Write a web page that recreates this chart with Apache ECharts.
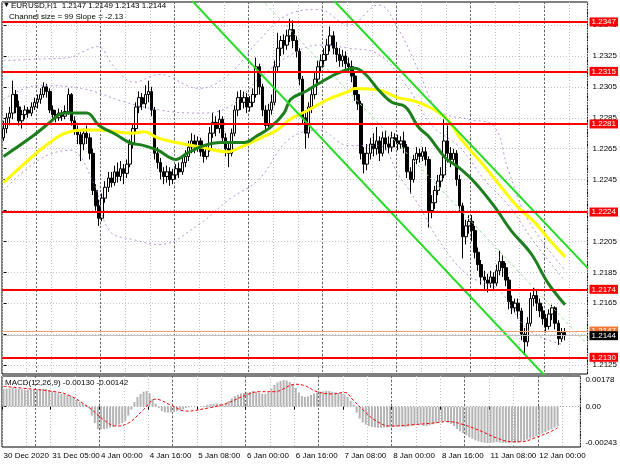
<!DOCTYPE html>
<html><head><meta charset="utf-8">
<script src="https://cdn.jsdelivr.net/npm/echarts@6/dist/echarts.min.js"></script>
<style>html,body{margin:0;padding:0;background:#fff}#c{width:620px;height:465px}</style>
</head><body><div id="c"></div>
<script>
// ---- data ----
const dayNames = ['30 Dec','31 Dec','4 Jan','5 Jan','6 Jan','7 Jan','8 Jan','11 Jan','12 Jan'];
const dayFirstHour = [13,0,0,0,0,0,0,0,0];
const dayBarCount = [11,21,24,24,24,24,24,24,7];
const emptySlots = 7;
// [open, close, low, high]
const candles = [
[1.2272,1.2278,1.2270,1.2283],[1.2278,1.2285,1.2275,1.2288],[1.2285,1.2288,1.2280,1.2292],[1.2288,1.2300,1.2284,1.2309],
[1.2300,1.2292,1.2288,1.2303],[1.2292,1.2283,1.2280,1.2296],[1.2283,1.2287,1.2278,1.2290],[1.2287,1.2290,1.2284,1.2293],
[1.2290,1.2288,1.2285,1.2292],[1.2288,1.2292,1.2286,1.2295],[1.2292,1.2295,1.2290,1.2298],[1.2295,1.2297,1.2291,1.2300],
[1.2297,1.2300,1.2294,1.2304],[1.2300,1.2305,1.2298,1.2308],[1.2305,1.2302,1.2298,1.2307],[1.2302,1.2290,1.2288,1.2304],
[1.2290,1.2287,1.2284,1.2293],[1.2287,1.2285,1.2282,1.2290],[1.2285,1.2288,1.2283,1.2291],[1.2288,1.2286,1.2283,1.2290],
[1.2286,1.2289,1.2284,1.2293],[1.2289,1.2300,1.2287,1.2304],[1.2300,1.2283,1.2280,1.2301],[1.2283,1.2277,1.2274,1.2286],
[1.2277,1.2274,1.2268,1.2280],[1.2274,1.2268,1.2257,1.2276],[1.2268,1.2275,1.2264,1.2278],[1.2275,1.2272,1.2268,1.2280],
[1.2272,1.2262,1.2258,1.2275],[1.2262,1.2238,1.2235,1.2265],[1.2238,1.2228,1.2225,1.2242],[1.2228,1.2220,1.2215,1.2232],
[1.2220,1.2233,1.2218,1.2236],[1.2233,1.2240,1.2230,1.2244],[1.2240,1.2246,1.2237,1.2250],[1.2246,1.2243,1.2240,1.2250],
[1.2243,1.2250,1.2241,1.2254],[1.2250,1.2247,1.2243,1.2256],[1.2247,1.2252,1.2244,1.2257],[1.2252,1.2249,1.2242,1.2255],
[1.2249,1.2255,1.2246,1.2258],[1.2255,1.2268,1.2253,1.2271],[1.2268,1.2278,1.2265,1.2281],[1.2278,1.2292,1.2275,1.2295],
[1.2292,1.2298,1.2288,1.2302],[1.2298,1.2294,1.2290,1.2301],[1.2294,1.2300,1.2291,1.2306],[1.2300,1.2302,1.2295,1.2309],
[1.2302,1.2290,1.2286,1.2305],[1.2290,1.2262,1.2258,1.2292],[1.2262,1.2256,1.2252,1.2266],[1.2256,1.2250,1.2245,1.2259],
[1.2250,1.2247,1.2242,1.2253],[1.2247,1.2250,1.2243,1.2254],[1.2250,1.2245,1.2241,1.2253],[1.2245,1.2248,1.2242,1.2252],
[1.2248,1.2252,1.2245,1.2255],[1.2252,1.2250,1.2246,1.2256],[1.2250,1.2256,1.2248,1.2259],[1.2256,1.2260,1.2253,1.2264],
[1.2260,1.2266,1.2257,1.2270],[1.2266,1.2270,1.2262,1.2275],[1.2270,1.2266,1.2262,1.2274],[1.2266,1.2270,1.2263,1.2273],
[1.2270,1.2263,1.2260,1.2272],[1.2263,1.2260,1.2256,1.2266],[1.2260,1.2265,1.2258,1.2268],[1.2265,1.2275,1.2263,1.2279],
[1.2275,1.2282,1.2272,1.2288],[1.2282,1.2278,1.2273,1.2286],[1.2278,1.2284,1.2275,1.2290],[1.2284,1.2272,1.2268,1.2286],
[1.2272,1.2265,1.2260,1.2275],[1.2265,1.2262,1.2253,1.2268],[1.2262,1.2275,1.2260,1.2278],[1.2275,1.2290,1.2273,1.2293],
[1.2290,1.2298,1.2286,1.2302],[1.2298,1.2295,1.2290,1.2303],[1.2295,1.2298,1.2291,1.2302],[1.2298,1.2292,1.2288,1.2301],
[1.2292,1.2295,1.2289,1.2299],[1.2295,1.2300,1.2292,1.2304],[1.2300,1.2318,1.2298,1.2324],[1.2318,1.2305,1.2300,1.2320],
[1.2305,1.2290,1.2286,1.2307],[1.2290,1.2280,1.2276,1.2293],[1.2280,1.2290,1.2278,1.2294],[1.2290,1.2295,1.2287,1.2300],
[1.2295,1.2318,1.2293,1.2322],[1.2318,1.2330,1.2315,1.2340],[1.2330,1.2335,1.2325,1.2338],[1.2335,1.2332,1.2326,1.2339],
[1.2332,1.2338,1.2329,1.2342],[1.2338,1.2342,1.2334,1.2349],[1.2342,1.2335,1.2330,1.2348],[1.2335,1.2328,1.2324,1.2338],
[1.2328,1.2310,1.2306,1.2330],[1.2310,1.2285,1.2281,1.2312],[1.2285,1.2275,1.2265,1.2290],[1.2275,1.2292,1.2272,1.2295],
[1.2292,1.2300,1.2288,1.2304],[1.2300,1.2310,1.2297,1.2314],[1.2310,1.2318,1.2306,1.2322],[1.2318,1.2322,1.2314,1.2326],
[1.2322,1.2326,1.2318,1.2330],[1.2326,1.2332,1.2322,1.2336],[1.2332,1.2338,1.2328,1.2344],[1.2338,1.2330,1.2326,1.2341],
[1.2330,1.2326,1.2321,1.2334],[1.2326,1.2322,1.2318,1.2330],[1.2322,1.2325,1.2318,1.2329],[1.2325,1.2320,1.2316,1.2328],
[1.2320,1.2318,1.2314,1.2324],[1.2318,1.2312,1.2308,1.2322],[1.2312,1.2300,1.2296,1.2315],[1.2300,1.2294,1.2290,1.2304],
[1.2294,1.2262,1.2258,1.2296],[1.2262,1.2255,1.2249,1.2266],[1.2255,1.2262,1.2251,1.2268],[1.2262,1.2268,1.2258,1.2272],
[1.2268,1.2265,1.2260,1.2275],[1.2265,1.2270,1.2261,1.2279],[1.2270,1.2262,1.2257,1.2273],[1.2262,1.2272,1.2260,1.2276],
[1.2272,1.2268,1.2264,1.2277],[1.2268,1.2266,1.2262,1.2273],[1.2266,1.2272,1.2263,1.2276],[1.2272,1.2270,1.2266,1.2275],
[1.2270,1.2268,1.2264,1.2274],[1.2268,1.2270,1.2265,1.2273],[1.2270,1.2266,1.2262,1.2276],[1.2266,1.2250,1.2246,1.2268],
[1.2250,1.2245,1.2236,1.2253],[1.2245,1.2258,1.2243,1.2261],[1.2258,1.2262,1.2255,1.2266],[1.2262,1.2260,1.2256,1.2265],
[1.2260,1.2263,1.2257,1.2266],[1.2263,1.2258,1.2254,1.2266],[1.2258,1.2225,1.2214,1.2260],[1.2225,1.2230,1.2220,1.2235],
[1.2230,1.2238,1.2226,1.2241],[1.2238,1.2244,1.2235,1.2248],[1.2244,1.2248,1.2240,1.2253],[1.2248,1.2270,1.2246,1.2284],
[1.2270,1.2262,1.2256,1.2280],[1.2262,1.2258,1.2253,1.2266],[1.2258,1.2262,1.2255,1.2265],[1.2262,1.2245,1.2241,1.2264],
[1.2245,1.2228,1.2224,1.2248],[1.2228,1.2208,1.2194,1.2230],[1.2208,1.2215,1.2203,1.2219],[1.2215,1.2218,1.2210,1.2222],
[1.2218,1.2212,1.2205,1.2222],[1.2212,1.2198,1.2194,1.2215],[1.2198,1.2190,1.2186,1.2201],[1.2190,1.2182,1.2177,1.2193],
[1.2182,1.2180,1.2174,1.2186],[1.2180,1.2178,1.2172,1.2184],[1.2178,1.2182,1.2175,1.2186],[1.2182,1.2178,1.2173,1.2185],
[1.2178,1.2186,1.2176,1.2190],[1.2186,1.2192,1.2183,1.2199],[1.2192,1.2188,1.2182,1.2196],[1.2188,1.2180,1.2176,1.2191],
[1.2180,1.2166,1.2161,1.2182],[1.2166,1.2162,1.2158,1.2170],[1.2162,1.2165,1.2159,1.2168],[1.2165,1.2160,1.2155,1.2168],
[1.2160,1.2145,1.2141,1.2162],[1.2145,1.2140,1.2132,1.2149],[1.2140,1.2152,1.2137,1.2156],[1.2152,1.2168,1.2150,1.2172],
[1.2168,1.2170,1.2163,1.2175],[1.2170,1.2165,1.2160,1.2173],[1.2165,1.2160,1.2156,1.2168],[1.2160,1.2155,1.2151,1.2163],
[1.2155,1.2150,1.2146,1.2158],[1.2150,1.2158,1.2148,1.2161],[1.2158,1.2162,1.2154,1.2164],[1.2162,1.2152,1.2148,1.2163],
[1.2152,1.2142,1.2138,1.2154],[1.2142,1.2146,1.2140,1.2149],[1.2146,1.2144,1.2141,1.2149]
];
const maGreen = [[0,1.2260],[9.4,1.2273],[15,1.2282],[18,1.2287],[21,1.2288],[27,1.2288],[31,1.2280],[36.6,1.2274],[40.8,1.2269],[45.6,1.2267],[50,1.2264],[56,1.2258],[59.5,1.2262],[65,1.2267],[70.5,1.2269],[78,1.2269],[82,1.2273],[86.7,1.2279],[91,1.2288],[93.2,1.2297],[98,1.2302],[103,1.2308],[108.7,1.2314],[114,1.2317],[117.5,1.2313],[121.7,1.2303],[126,1.2295],[130.4,1.2292],[134.6,1.2279],[137.9,1.2273],[143.4,1.2259],[147.6,1.2253],[153,1.2243],[159.5,1.2227],[164.7,1.2212],[171.2,1.2197],[176.7,1.2178],[182.2,1.2164]];
const maYellow = [[0,1.2243],[9.4,1.2260],[15,1.2269],[20,1.2275],[25.6,1.2277],[31,1.2277],[36.6,1.2276],[41.7,1.2275],[45.6,1.2276],[50,1.2272],[56,1.2269],[64,1.2266],[72.5,1.2263],[78,1.2267],[83.5,1.2272],[88.7,1.2277],[93,1.2284],[99,1.2290],[105.5,1.2297],[112,1.2302],[114,1.2304],[121.7,1.2303],[128,1.2298],[134.6,1.2295],[143.4,1.2285],[148.5,1.2271],[156.3,1.2253],[161.5,1.2240],[167,1.2227],[172.5,1.2217],[176.7,1.2207],[182.2,1.2195]];
const bandUpper = [[0,1.2322],[11.7,1.2323],[21.4,1.2324],[26,1.2328],[30.5,1.2331],[35.9,1.2318],[42.4,1.2308],[50.5,1.2313],[63.4,1.2304],[73.1,1.2313],[82.8,1.2335],[92.6,1.2352],[102.3,1.2355],[112,1.2345],[121.7,1.2358],[128.2,1.2342],[134.6,1.2316],[141.1,1.2290],[150.8,1.2284],[158.9,1.2280],[163.8,1.2251],[170.2,1.2219],[181.9,1.2187]];
const bandInnerUpper = [[0,1.2297],[11.7,1.2306],[21.4,1.2305],[29.4,1.2302],[38,1.2296],[50.5,1.2290],[63.4,1.2288],[73.1,1.2292],[82.8,1.2310],[92.6,1.2325],[102.3,1.2332],[112,1.2330],[121.7,1.2326],[131,1.2305],[139,1.2280],[148,1.2266],[156,1.2245],[164,1.2228],[172,1.2205],[181.9,1.2180]];
const bandLower = [[0,1.2238],[11.7,1.2258],[21.4,1.2264],[29.4,1.2242],[34.3,1.2212],[42.4,1.2206],[50.5,1.2203],[63.4,1.2216],[73.1,1.2232],[82.8,1.2245],[92.6,1.2271],[102.3,1.2277],[112,1.2267],[121.7,1.2267],[128.2,1.2248],[134.6,1.2229],[141.1,1.2206],[150.8,1.2183],[160.5,1.2174],[170.2,1.2148],[181.9,1.2138]];
const channelUpper = [[95.8,1.23848],[189.6,1.21877]];
const channelMiddle = [[79.6,1.23702],[189.6,1.21380]];
const channelLower = [[60.2,1.23628],[179.9,1.21090]];
const levels = [1.2347,1.2315,1.2281,1.2224,1.2174,1.2130];
const askPrice = 1.2147, bidPrice = 1.2144;
const priceTicks = [1.2125,1.2145,1.2165,1.2185,1.2205,1.2225,1.2245,1.2265,1.2285,1.2305,1.2325,1.2345];
const macdTicks = [-0.00243,0,0.00178];
const macdHist = [
0.00118,0.00120,0.00122,0.00125,0.00122,0.00118,0.00115,0.00113,0.00112,0.00113,0.00115,0.00116,0.00118,0.00120,0.00118,0.00110,
0.00102,0.00095,0.00090,0.00085,0.00082,0.00080,0.00070,0.00058,0.00045,0.00030,0.00022,0.00012,
-0.00010,-0.00060,-0.00110,-0.00150,
-0.00152,-0.00150,-0.00145,-0.00140,-0.00135,-0.00128,-0.00120,-0.00110,-0.00095,
-0.00060,-0.00020,0.00030,0.00065,0.00085,0.00100,0.00105,
0.00090,0.00050,0.00020,-0.00010,-0.00030,-0.00038,-0.00040,-0.00038,-0.00035,
-0.00030,-0.00025,-0.00018,-0.00010,-0.00005,0.00000,0.00002,0.00000,-0.00002,0.00005,
0.00012,0.00018,0.00020,0.00022,0.00018,0.00015,0.00020,0.00035,0.00055,
0.00070,0.00080,0.00088,0.00092,0.00095,0.00098,0.00105,0.00100,0.00092,0.00085,
0.00085,0.00095,0.00120,0.00145,0.00162,0.00172,0.00178,0.00175,0.00165,
0.00150,0.00125,0.00095,0.00070,0.00065,0.00068,
0.00078,0.00088,0.00095,0.00100,0.00102,0.00106,0.00104,0.00100,0.00095,0.00092,0.00088,0.00080,
0.00065,0.00040,0.00015,-0.00040,
-0.00080,-0.00105,-0.00120,-0.00130,-0.00136,-0.00140,-0.00142,-0.00142,-0.00140,
-0.00138,-0.00136,-0.00135,-0.00133,-0.00132,-0.00135,-0.00138,-0.00133,-0.00128,-0.00124,-0.00122,-0.00120,-0.00128,-0.00130,-0.00125,
-0.00118,-0.00110,-0.00100,-0.00098,-0.00100,-0.00105,-0.00115,
-0.00130,-0.00150,-0.00165,-0.00178,-0.00190,-0.00205,-0.00215,-0.00225,
-0.00232,-0.00238,-0.00242,-0.00243,-0.00242,-0.00240,-0.00238,-0.00240,-0.00243,-0.00243,-0.00242,-0.00240,
-0.00240,-0.00240,-0.00235,-0.00228,-0.00220,-0.00212,-0.00205,-0.00198,-0.00190,-0.00180,-0.00170,-0.00160,-0.00150,-0.00140,-0.00130
];
const macdSignal = [[0,0.00136],[8,0.00120],[15,0.00105],[21,0.00080],[28,-0.00005],[33,-0.00090],[37,-0.00130],[41,-0.00110],[46,-0.00020],[50,0.00050],[55,0.00010],[60,-0.00030],[67,-0.00010],[73,0.00020],[80,0.00080],[84,0.00100],[89,0.00100],[96,0.00150],[99,0.00140],[103,0.00100],[108,0.00085],[112,0.00095],[115,0.00040],[118,-0.00020],[122,-0.00090],[127,-0.00130],[135,-0.00120],[141,-0.00110],[146,-0.00100],[151,-0.00120],[157,-0.00165],[162,-0.00210],[167,-0.00235],[170,-0.00235],[175,-0.00205],[180,-0.00165],[182,-0.00142]];

// ---- categories ----
const categories = [];
const dayStarts = new Set();
dayNames.forEach((d, k) => {
  for (let h = 0; h < dayBarCount[k]; h++) {
    const hr = dayFirstHour[k] + h;
    if (hr === 0) dayStarts.add(categories.length);
    categories.push(d + ' ' + String(hr).padStart(2,'0') + ':00');
  }
});
categories[0] = '30 Dec 2020';
for (let k = 0; k < emptySlots; k++) categories.push('');
const N = categories.length;

const FONT = 'Liberation Sans';
const PURPLE = '#a873d6';
const lightGrid = {show:true, lineStyle:{color:'#c4c4c4', type:[1,2], width:1}};
const darkGrid = {show:true, interval:(i)=>dayStarts.has(i), lineStyle:{color:'#666', type:[2,2], width:1}};
function catAxis(grid, extra) {
  return Object.assign({type:'category', gridIndex:grid, data:categories, boundaryGap:true,
    axisLine:{show:false}, axisTick:{show:false}, axisLabel:{show:false}}, extra);
}
function band(data) {
  return {type:'line', xAxisIndex:2, yAxisIndex:0, data:data, smooth:0.4, showSymbol:false, silent:true,
    lineStyle:{color:PURPLE, width:1, type:[2,3], opacity:0.8}};
}
const chart = echarts.init(document.getElementById('c'), null, {renderer:'canvas'});
const lvlLabel = (bg, fg) => ({show:true, position:'end', distance:2, formatter:p=>Number(p.value).toFixed(4),
  backgroundColor:bg, color:fg, fontFamily:FONT, fontSize:8, padding:[1,2,0,2]});
const levelLines = levels.map(v=>({yAxis:v, lineStyle:{color:'#ff0000', width:2, type:'solid'}, label:lvlLabel('#ff0000','#ffffff')}));
levelLines.push({yAxis:askPrice, lineStyle:{color:'#f4a070', width:1, type:'solid'}, label:lvlLabel('#f07830','#ffffff')});
levelLines.push({yAxis:bidPrice, lineStyle:{color:'#c0c0c0', width:1, type:'solid'}, label:lvlLabel('#000000','#ffffff')});
chart.setOption({
  animation:false,
  grid:[
    {left:2, right:32, top:2, height:372, show:true, borderColor:'#000', borderWidth:1},
    {left:2, right:32, top:376, height:71, show:true, borderColor:'#000', borderWidth:1}
  ],
  xAxis:[
    catAxis(0, {splitLine:Object.assign({interval:7}, lightGrid)}),
    catAxis(0, {splitLine:darkGrid}),
    {type:'value', gridIndex:0, min:-0.5, max:N-0.5, show:false},
    catAxis(1, {splitLine:Object.assign({interval:7}, lightGrid),
      axisTick:{show:true, interval:15, length:3, lineStyle:{color:'#000'}},
      axisLabel:{show:true, interval:15, align:'left', margin:5, fontFamily:FONT, fontSize:8, color:'#000'}}),
    catAxis(1, {splitLine:darkGrid}),
    {type:'value', gridIndex:1, min:-0.5, max:N-0.5, show:false}
  ],
  yAxis:[
    {type:'value', gridIndex:0, position:'right', min:1.21192, max:1.23599, scale:true,
     axisLine:{show:false},
     axisTick:{show:true, customValues:priceTicks, length:3, lineStyle:{color:'#000'}},
     axisLabel:{show:true, customValues:priceTicks, formatter:v=>v.toFixed(4), fontFamily:FONT, fontSize:8, color:'#000', margin:5},
     splitLine:lightGrid},
    {type:'value', gridIndex:1, position:'right', min:-0.0027, max:0.00205,
     axisLine:{show:false},
     axisTick:{show:true, customValues:[0], length:3, lineStyle:{color:'#000'}},
     axisLabel:{show:true, customValues:macdTicks, formatter:v=>v===0?'0.00':v.toFixed(5), fontFamily:FONT, fontSize:8, color:'#000', margin:5},
     splitLine:{show:true, lineStyle:{color:'#aaa', type:[1,2]}}}
  ],
  series:[
    band(bandUpper), band(bandInnerUpper), band(bandLower),
    {type:'line', xAxisIndex:2, yAxisIndex:0, data:channelMiddle, showSymbol:false, silent:true,
     lineStyle:{color:'#8fe38f', width:1, type:[3,3]}},
    {type:'line', xAxisIndex:2, yAxisIndex:0, data:[[-20,1.22]], showSymbol:false, silent:true,
     lineStyle:{opacity:0},
     markLine:{symbol:'none', silent:true, animation:false, precision:4, data:levelLines}},
    {type:'candlestick', xAxisIndex:0, yAxisIndex:0, data:candles, barWidth:3,
     itemStyle:{color:'#ffffff', color0:'#000000', borderColor:'#000000', borderColor0:'#000000', borderWidth:1}},
    {type:'line', xAxisIndex:2, yAxisIndex:0, data:maYellow, smooth:0.4, showSymbol:false, silent:true,
     lineStyle:{color:'#ffff00', width:3}},
    {type:'line', xAxisIndex:2, yAxisIndex:0, data:maGreen, smooth:0.4, showSymbol:false, silent:true,
     lineStyle:{color:'#1c7f1c', width:3}},
    {type:'line', xAxisIndex:2, yAxisIndex:0, data:channelUpper, showSymbol:false, silent:true,
     lineStyle:{color:'#22dd22', width:2}},
    {type:'line', xAxisIndex:2, yAxisIndex:0, data:channelLower, showSymbol:false, silent:true,
     lineStyle:{color:'#22dd22', width:2}},
    {type:'bar', xAxisIndex:3, yAxisIndex:1, data:macdHist, barWidth:2, silent:true,
     itemStyle:{color:'#b4b4b4'}},
    {type:'line', xAxisIndex:5, yAxisIndex:1, data:macdSignal, smooth:0.4, showSymbol:false, silent:true,
     lineStyle:{color:'#ff0000', width:1, type:[3,2]}}
  ],
  graphic:[
    {type:'text', left:3, top:2, style:{text:'▼', font:'7px '+FONT, fill:'#000'}},
    {type:'text', left:11, top:2, style:{text:'EURUSD,H1  1.2147 1.2149 1.2143 1.2144', font:'8px '+FONT, fill:'#000'}},
    {type:'text', left:9, top:13, style:{text:'Channel size = 99 Slope = -2.13', font:'8px '+FONT, fill:'#000'}},
    {type:'text', left:5, top:379, style:{text:'MACD(12,26,9) -0.00130 -0.00142', font:'8px '+FONT, fill:'#000'}}
  ]
});
</script></body></html>
